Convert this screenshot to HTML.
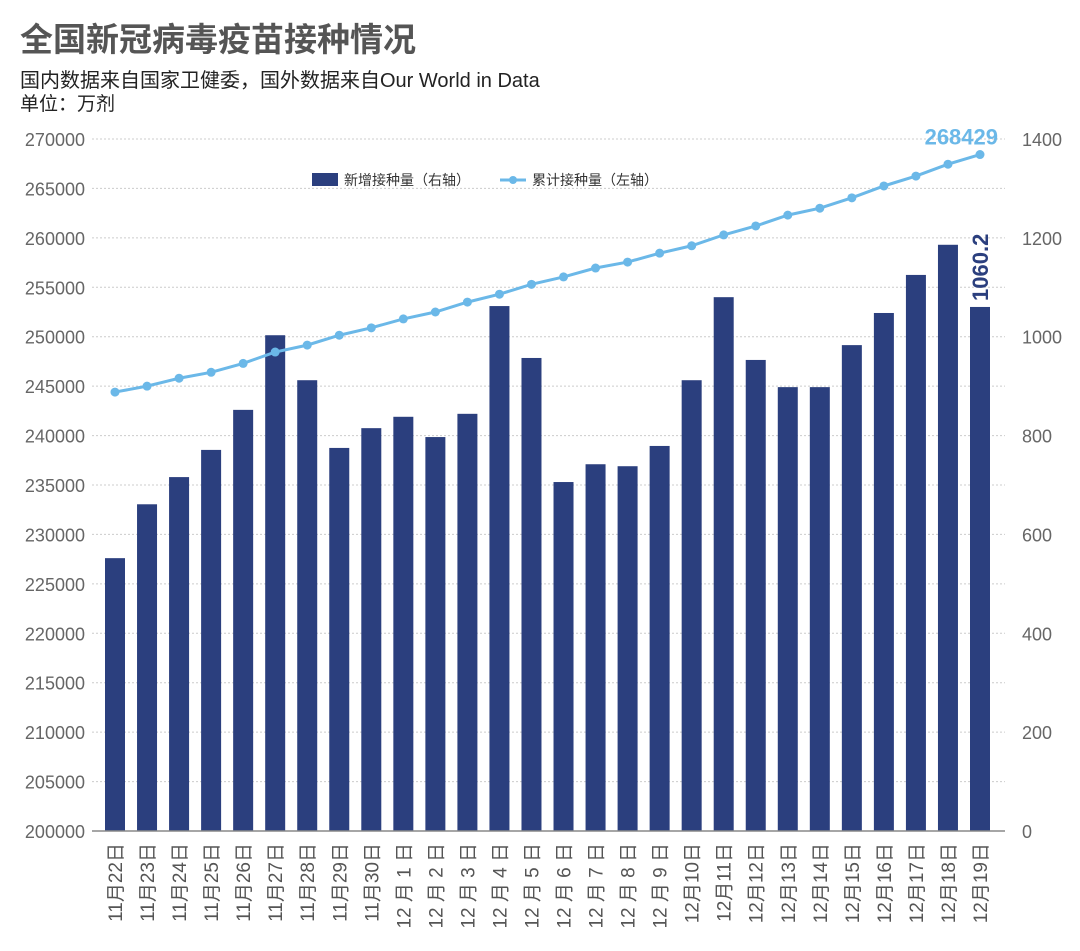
<!DOCTYPE html>
<html><head><meta charset="utf-8"><style>
body{margin:0;background:#fff;width:1080px;height:946px;overflow:hidden;font-family:"Liberation Sans","Noto Sans CJK SC",sans-serif}
</style></head><body>
<svg id="c" width="1080" height="946" xmlns="http://www.w3.org/2000/svg" font-family="Liberation Sans, Noto Sans CJK SC, sans-serif">
<text x="20" y="51" font-size="33" font-weight="bold" fill="#555">全国新冠病毒疫苗接种情况</text>
<text x="20" y="87" font-size="20" fill="#222">国内数据来自国家卫健委，国外数据来自Our World in Data</text>
<text x="20" y="110" font-size="19" fill="#222">单位：万剂</text>
<g id="legend">
<rect x="312" y="173" width="26" height="13" fill="#2b3f7e"/>
<text x="344" y="185" font-size="14" fill="#333">新增接种量（右轴）</text>
<line x1="500" y1="180" x2="526" y2="180" stroke="#6bb8e8" stroke-width="3"/>
<circle cx="513" cy="180" r="4" fill="#6bb8e8"/>
<text x="532" y="185" font-size="14" fill="#333">累计接种量（左轴）</text>
</g>
</svg>
<script>
const categories=["11月22日","11月23日","11月24日","11月25日","11月26日","11月27日","11月28日","11月29日","11月30日","12 月 1 日","12 月 2 日","12 月 3 日","12 月 4 日","12 月 5 日","12 月 6 日","12 月 7 日","12 月 8 日","12 月 9 日","12月10日","12月11日","12月12日","12月13日","12月14日","12月15日","12月16日","12月17日","12月18日","12月19日"];
const dailyValues=[552,661,716,771,852,1003,912,775,815,838,797,844,1062,957,706,742,738,779,912,1080,953,898,898,983,1048,1125,1186,1060.2];
const cumulativeValues=[244400,245000,245800,246400,247300,248450,249150,250150,250900,251800,252500,253500,254300,255300,256050,256950,257550,258450,259200,260300,261200,262300,263000,264050,265250,266250,267450,268429];
const leftTicks=[200000,205000,210000,215000,220000,225000,230000,235000,240000,245000,250000,255000,260000,265000,270000];
const rightTicks=[0,200,400,600,800,1000,1200,1400];
const svg=document.getElementById('c');const NS='http://www.w3.org/2000/svg';
const X0=92,X1=1005,Y0=831,Y1=139;
const yL=v=>Y0-(v-200000)/70000*(Y0-Y1);
const yR=v=>Y0-v/1400*(Y0-Y1);
const step=(980-115)/(categories.length-1);
const xC=i=>115+i*step;
function mk(t,a){const e=document.createElementNS(NS,t);for(const k in a)e.setAttribute(k,a[k]);svg.appendChild(e);return e;}
leftTicks.forEach(v=>{
 if(v>200000){const g=mk('line',{x1:X0,x2:X1,y1:yL(v),y2:yL(v),stroke:'#ccc','stroke-width':1,'stroke-dasharray':'2,2'});
 
 }
 const t=mk('text',{x:85,y:yL(v)+7,'text-anchor':'end','font-size':18,fill:'#666'});t.textContent=v;
 
 
});
rightTicks.forEach(v=>{
 const t=mk('text',{x:1022,y:yR(v)+7,'font-size':18,fill:'#666'});t.textContent=v;
 
 
});
dailyValues.forEach((v,i)=>{
 const r=mk('rect',{x:xC(i)-10,y:yR(v),width:20,height:Y0-yR(v),fill:'#2b3f7e'});
 
 
});
const ax=mk('line',{x1:X0,x2:X1,y1:Y0,y2:Y0,stroke:'#888','stroke-width':1.5});


categories.forEach((c,i)=>{
 const t=mk('text',{transform:`translate(${xC(i)+7},843) rotate(-90)`,'text-anchor':'end','font-size':19,fill:'#555'});t.textContent=c;
 
 
});
const pl=mk('polyline',{points:cumulativeValues.map((v,i)=>xC(i)+','+yL(v)).join(' '),fill:'none',stroke:'#6bb8e8','stroke-width':3});


cumulativeValues.forEach((v,i)=>{
 const c=mk('circle',{cx:xC(i),cy:yL(v),r:4.5,fill:'#6bb8e8'});
 
 
});
const n=categories.length-1;
const l1=mk('text',{x:xC(n)+18,y:yL(cumulativeValues[n])-10,'text-anchor':'end','font-size':22,'font-weight':'bold',fill:'#6bb8e8'});l1.textContent=cumulativeValues[n];


const l2=mk('text',{transform:`translate(${xC(n)+8},${yR(dailyValues[n])-6}) rotate(-90)`,'font-size':22,'font-weight':'bold',fill:'#2b3f7e'});l2.textContent=dailyValues[n];


</script>
</body></html>
